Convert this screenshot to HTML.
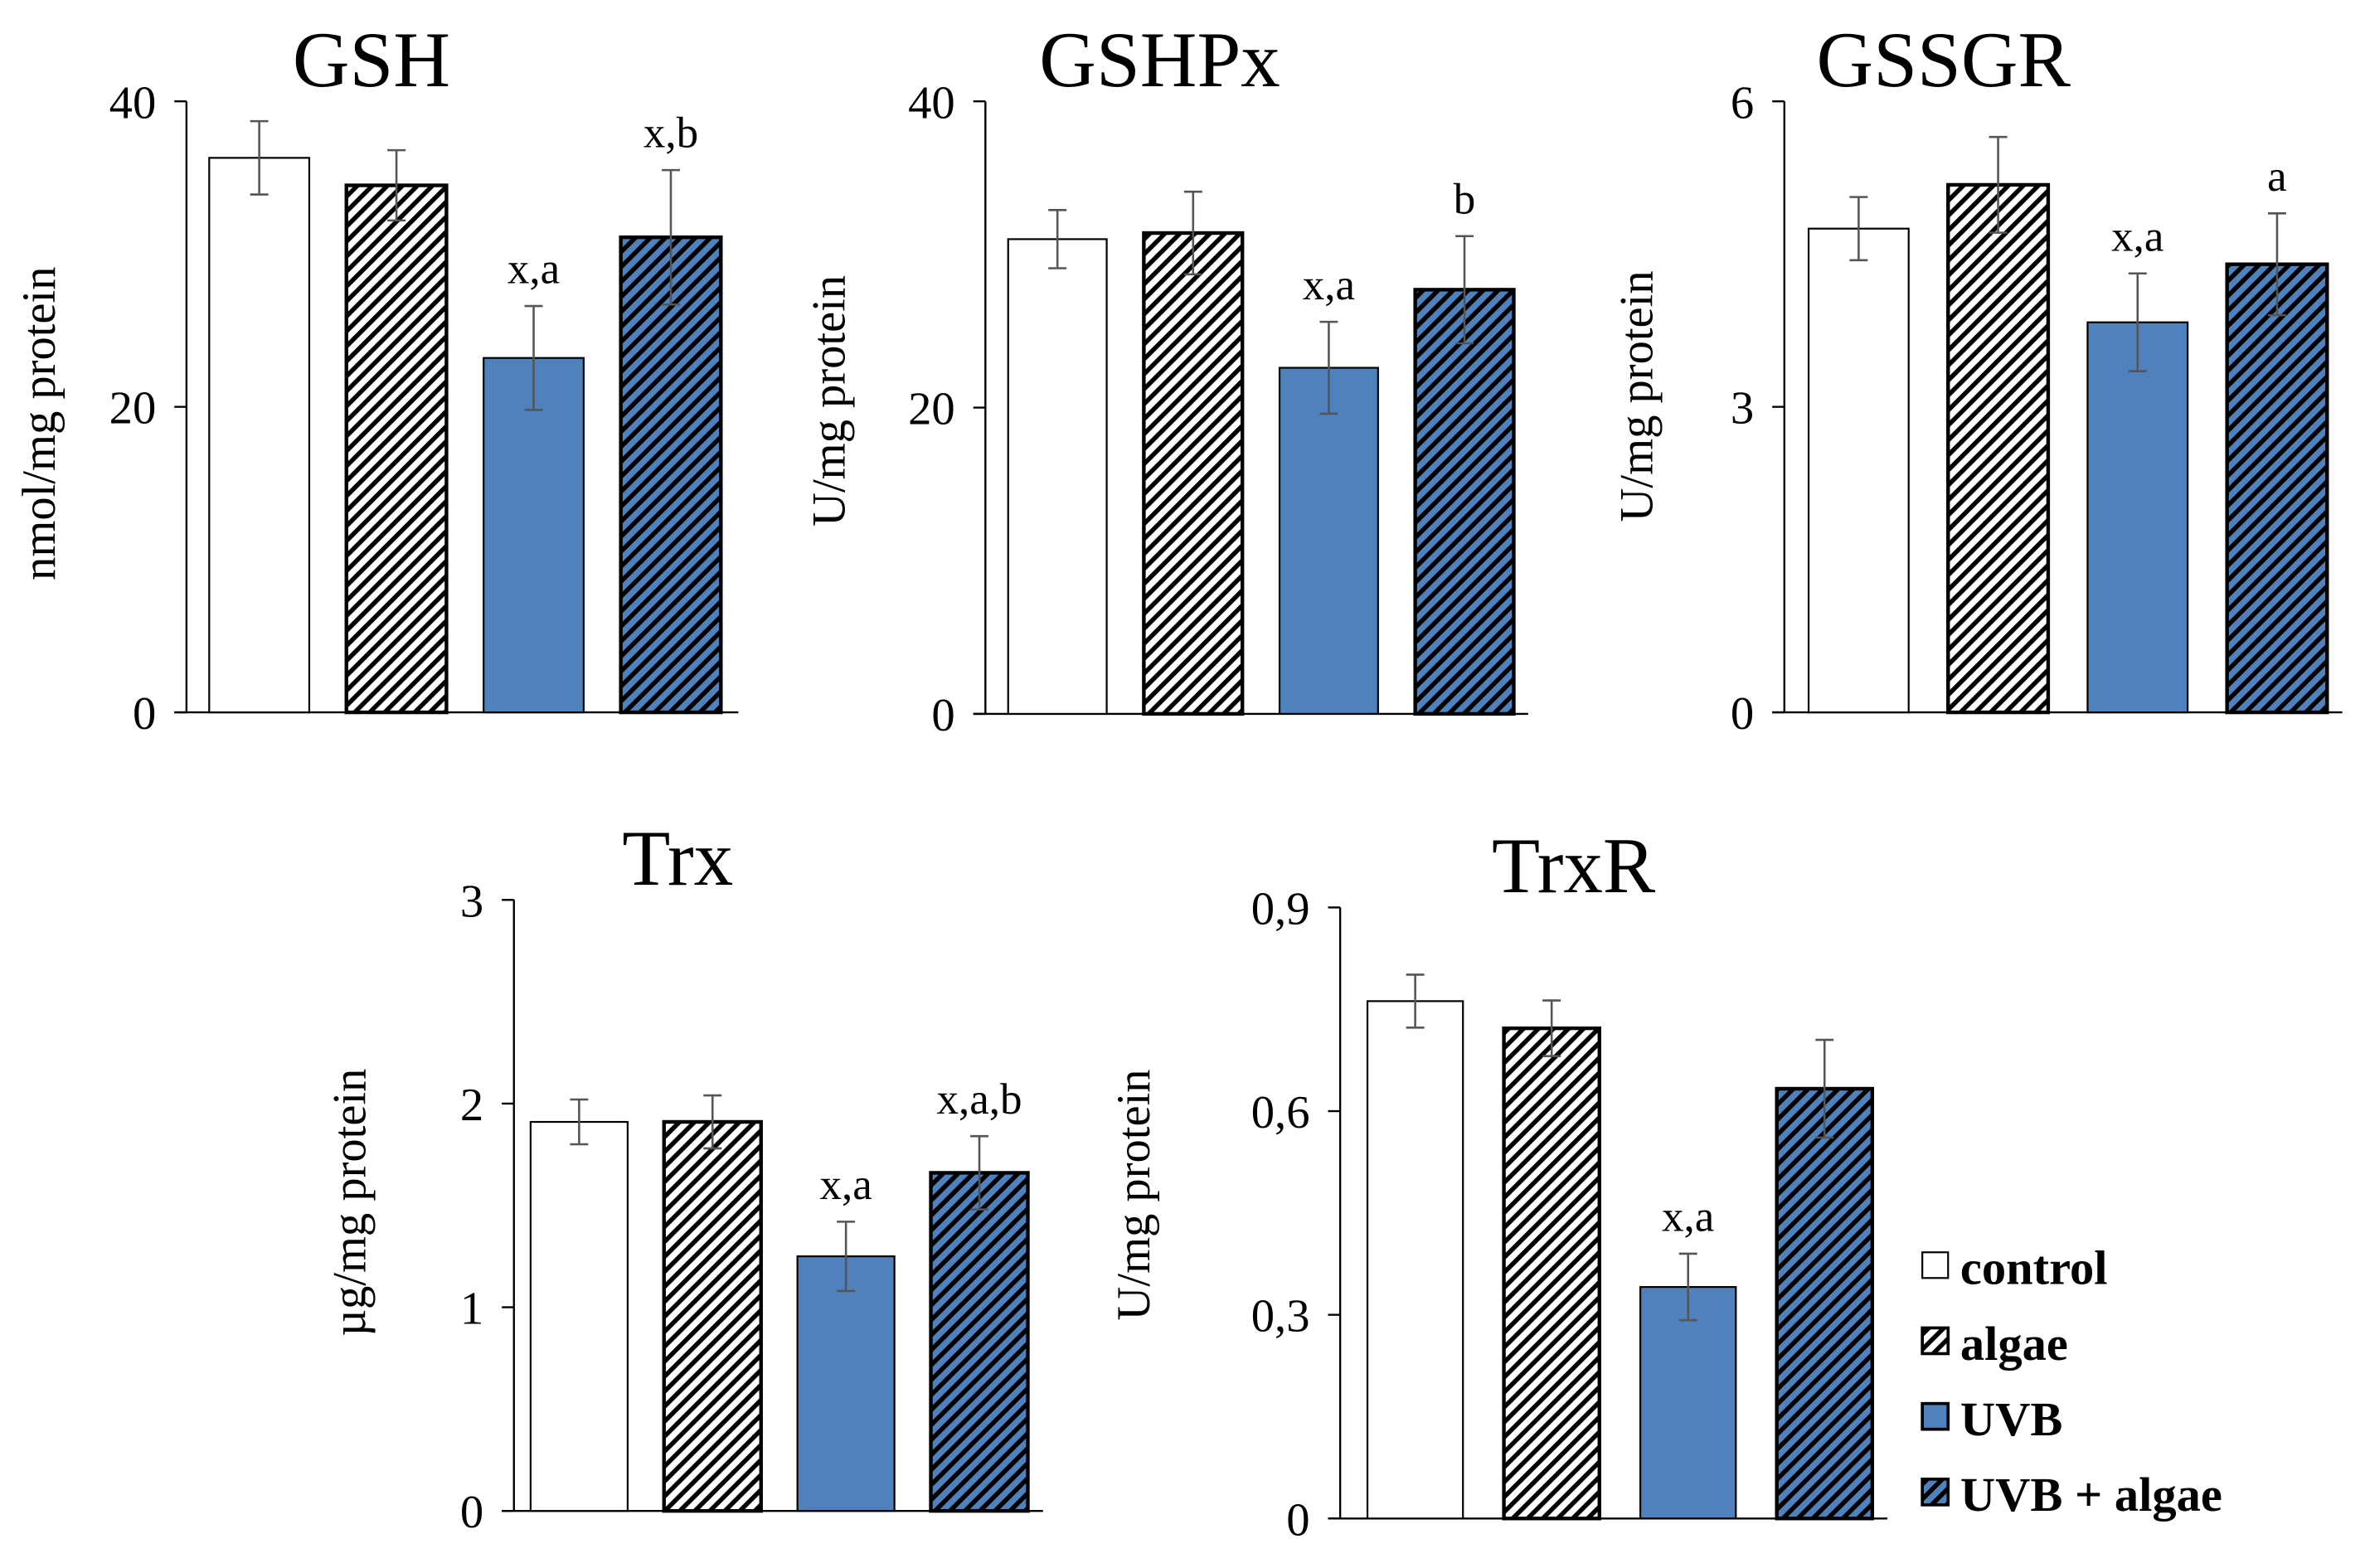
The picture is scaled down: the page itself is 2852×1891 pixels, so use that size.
<!DOCTYPE html>
<html><head><meta charset="utf-8"><style>
html,body{margin:0;padding:0;background:#fff;}
svg, svg text{font-family:"Liberation Serif","Times New Roman",serif;}
</style></head><body>
<svg id="fig" width="2852" height="1886" viewBox="0 0 1560 1034" preserveAspectRatio="none" xmlns="http://www.w3.org/2000/svg" font-family="Liberation Serif, serif">
<defs>
<pattern id="hatchW" patternUnits="userSpaceOnUse" width="7" height="7" patternTransform="rotate(45)">
<rect width="7" height="7" fill="#fff"/><rect x="0" y="0" width="3" height="7" fill="#000"/></pattern>
<pattern id="hatchB" patternUnits="userSpaceOnUse" width="7" height="7" patternTransform="rotate(45)">
<rect width="7" height="7" fill="#4f81bd"/><rect x="0" y="0" width="3" height="7" fill="#000"/></pattern>
</defs>
<g id="root"></g>
</svg>
<script>
const categories = ["control","algae","UVB","UVB + algae"];
const gshValues = [36.3, 34.5, 23.2, 31.1];
const gshErrors = [2.4, 2.3, 3.4, 4.4];
const gshLabels = ["", "", "x,a", "x,b"];
const gshTicks = ["0","20","40"];
const gshpxValues = [31.0, 31.4, 22.6, 27.7];
const gshpxErrors = [1.9, 2.7, 3.0, 3.5];
const gshpxLabels = ["", "", "x,a", "b"];
const gshpxTicks = ["0","20","40"];
const gssgrValues = [4.75, 5.18, 3.83, 4.40];
const gssgrErrors = [0.31, 0.47, 0.48, 0.50];
const gssgrLabels = ["", "", "x,a", "a"];
const gssgrTicks = ["0","3","6"];
const trxValues = [1.91, 1.91, 1.25, 1.66];
const trxErrors = [0.11, 0.13, 0.17, 0.18];
const trxLabels = ["", "", "x,a", "x,a,b"];
const trxTicks = ["0","1","2","3"];
const trxrValues = [0.762, 0.722, 0.341, 0.633];
const trxrErrors = [0.039, 0.041, 0.049, 0.072];
const trxrLabels = ["", "", "x,a", ""];
const trxrTicks = ["0","0,3","0,6","0,9"];

const NS="http://www.w3.org/2000/svg";
const FONT="Liberation Serif, Times New Roman, serif";
const root=document.getElementById('root');
const fills=["#fff","url(#hatchW)","#4f81bd","url(#hatchB)"];
function mk(tag,attrs,parent){const e=document.createElementNS(NS,tag);for(const k in attrs)e.setAttribute(k,attrs[k]);if(tag==='text')e.setAttribute('font-family',FONT);(parent||root).appendChild(e);return e;}

function panel(cfg){
  const g=mk('g',{});
  
  
  const maxV=parseFloat(cfg.ticks[cfg.ticks.length-1].replace(',','.'));
  const y=v=>cfg.y0-(v/maxV)*(cfg.y0-cfg.yTop);
  const t=mk('text',{x:cfg.titleX,y:cfg.yTop-10,'font-size':52,'text-anchor':'middle',fill:'#000'},g);t.textContent=cfg.name;
  
  
  const yl=mk('text',{x:0,y:0,'font-size':31,'text-anchor':'middle',fill:'#000',transform:`translate(${cfg.ylX},${cfg.ylY}) rotate(-90)`},g);yl.textContent=cfg.ylabel;
  
  
  const ax=mk('line',{x1:cfg.ax,x2:cfg.ax,y1:cfg.yTop,y2:cfg.y0,stroke:'#000','stroke-width':1.3},g);
  
  
  const xa=mk('line',{x1:cfg.ax-8,x2:cfg.axEnd,y1:cfg.y0,y2:cfg.y0,stroke:'#000','stroke-width':1.3},g);
  
  
  cfg.ticks.forEach(tk=>{
    const v=parseFloat(tk.replace(',','.'));
    mk('line',{x1:cfg.ax-8,x2:cfg.ax,y1:y(v),y2:y(v),stroke:'#000','stroke-width':1.3},g);
    const tl=mk('text',{x:cfg.ax-20,y:y(v)+11,'font-size':31,'text-anchor':'end',fill:'#000'},g);tl.textContent=tk;
    
    
  });
  const bw=cfg.bw, step=cfg.step;
  cfg.values.forEach((v,i)=>{
    const x=cfg.x0+i*step;
    const r=mk('rect',{x:x,y:y(v),width:bw,height:cfg.y0-y(v),fill:fills[i],stroke:'#000','stroke-width':i===0||i===2?1.2:2.4},g);
    
    
    const cx=x+bw/2, e=cfg.errors[i];
    const eb=mk('path',{d:`M${cx},${y(v+e)}V${y(v-e)}M${cx-6},${y(v+e)}H${cx+6}M${cx-6},${y(v-e)}H${cx+6}`,stroke:'#555','stroke-width':1.4,fill:'none'},g);
    
    
    if(cfg.labels[i]){
      const l=mk('text',{x:cx,y:y(v+e)-15,'font-size':29,'text-anchor':'middle',fill:'#000'},g);l.textContent=cfg.labels[i];
      
      
    }
  });
}
panel({name:'GSH',values:gshValues,errors:gshErrors,labels:gshLabels,ticks:gshTicks,ylabel:'nmol/mg protein',ax:123,axEnd:487,y0:471,yTop:67,x0:138,bw:66,step:90.5,titleX:245,ylX:36,ylY:280});
panel({name:'GSHPx',values:gshpxValues,errors:gshpxErrors,labels:gshpxLabels,ticks:gshpxTicks,ylabel:'U/mg protein',ax:650,axEnd:1008,y0:472,yTop:67,x0:665,bw:65,step:89.5,titleX:765,ylX:557,ylY:265});
panel({name:'GSSGR',values:gssgrValues,errors:gssgrErrors,labels:gssgrLabels,ticks:gssgrTicks,ylabel:'U/mg protein',ax:1177,axEnd:1545,y0:471,yTop:67,x0:1193,bw:66,step:92,titleX:1282,ylX:1090,ylY:262});
panel({name:'Trx',values:trxValues,errors:trxErrors,labels:trxLabels,ticks:trxTicks,ylabel:'µg/mg protein',ax:339,axEnd:688,y0:999,yTop:595,x0:350,bw:64,step:88,titleX:447,ylX:241,ylY:795});
panel({name:'TrxR',values:trxrValues,errors:trxrErrors,labels:trxrLabels,ticks:trxrTicks,ylabel:'U/mg protein',ax:884,axEnd:1245,y0:1004,yTop:600,x0:902,bw:63,step:90,titleX:1038,ylX:758,ylY:790});

const lg=mk('g',{});


categories.forEach((c,i)=>{
  const yy=838+i*50;
  const s=mk('rect',{x:1268,y:yy-10,width:17,height:17,fill:fills[i],stroke:'#000','stroke-width':i===0?1.2:2},lg);
  
  
  const t=mk('text',{x:1293,y:yy+11,'font-size':32,'font-weight':'bold',fill:'#000'},lg);t.textContent=c;
  
  
});
</script>
</body></html>
